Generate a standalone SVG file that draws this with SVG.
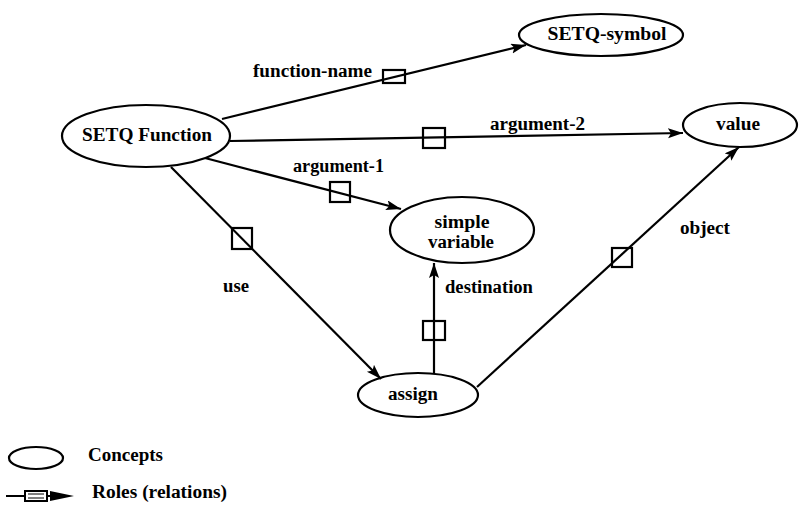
<svg xmlns="http://www.w3.org/2000/svg" width="800" height="505" viewBox="0 0 800 505">
<style>
.node ellipse{fill:none;stroke:#000;stroke-width:2.2}
.lbl{font-family:"Liberation Serif","Times New Roman",serif;font-weight:bold;font-size:18px;fill:#000}
.c{text-anchor:middle}
.edge line{stroke:#000;stroke-width:2.2}
.role{fill:none;stroke:#000;stroke-width:2.2}
</style>
<defs>
<marker id="ah" markerUnits="userSpaceOnUse" markerWidth="16" markerHeight="12" refX="15" refY="5" orient="auto">
<path d="M0,0 L15,5 L0,10 L3,5 z" fill="#000"/>
</marker>
</defs>
<rect width="800" height="505" fill="#fff"/>
<g id="connectors" class="edge">
<line x1="222" y1="119" x2="526" y2="45" marker-end="url(#ah)"/>
<rect class="role" x="383" y="70" width="22" height="13"/>
<text class="lbl" x="253" y="77" textLength="119" lengthAdjust="spacingAndGlyphs">function-name</text>
<line x1="230" y1="141" x2="683" y2="133" marker-end="url(#ah)"/>
<rect class="role" x="423" y="128" width="22" height="20"/>
<text class="lbl" x="490" y="130" textLength="95" lengthAdjust="spacingAndGlyphs">argument-2</text>
<line x1="205" y1="158" x2="401" y2="209" marker-end="url(#ah)"/>
<rect class="role" x="330" y="182" width="20" height="20"/>
<text class="lbl" x="293" y="172" textLength="91" lengthAdjust="spacingAndGlyphs">argument-1</text>
<line x1="171" y1="167" x2="381" y2="379" marker-end="url(#ah)"/>
<rect class="role" x="232" y="228" width="20" height="21"/>
<text class="lbl" x="223" y="292" textLength="26" lengthAdjust="spacingAndGlyphs">use</text>
<line x1="434" y1="373" x2="434" y2="263" marker-end="url(#ah)"/>
<rect class="role" x="423" y="321" width="22" height="19"/>
<text class="lbl" x="445" y="293" textLength="88" lengthAdjust="spacingAndGlyphs">destination</text>
<line x1="477" y1="387" x2="739" y2="147" marker-end="url(#ah)"/>
<rect class="role" x="612" y="248" width="20" height="19"/>
<text class="lbl" x="680" y="234" textLength="50" lengthAdjust="spacingAndGlyphs">object</text>
</g>
<g id="setq-function" class="node">
<ellipse cx="146" cy="136" rx="84" ry="31"/>
<text class="lbl c" x="147" y="141" textLength="130" lengthAdjust="spacingAndGlyphs">SETQ Function</text>
</g>
<g id="setq-symbol" class="node">
<ellipse cx="601" cy="35" rx="82" ry="21"/>
<text class="lbl c" x="607" y="40" textLength="119" lengthAdjust="spacingAndGlyphs">SETQ-symbol</text>
</g>
<g id="value" class="node">
<ellipse cx="740" cy="125" rx="57" ry="22"/>
<text class="lbl c" x="738" y="130" textLength="44" lengthAdjust="spacingAndGlyphs">value</text>
</g>
<g id="simple-variable" class="node">
<ellipse cx="462" cy="230" rx="72" ry="33"/>
<text class="lbl c" x="462" y="228" textLength="55" lengthAdjust="spacingAndGlyphs">simple</text>
<text class="lbl c" x="461" y="248" textLength="66" lengthAdjust="spacingAndGlyphs">variable</text>
</g>
<g id="assign" class="node">
<ellipse cx="418" cy="395" rx="60" ry="22"/>
<text class="lbl c" x="413" y="400" textLength="50" lengthAdjust="spacingAndGlyphs">assign</text>
</g>
<g id="legend">
<g id="legend-concepts" class="node">
<ellipse cx="36" cy="458" rx="27" ry="11"/>
<text class="lbl" x="88" y="461" textLength="75" lengthAdjust="spacingAndGlyphs">Concepts</text>
</g>
<g id="legend-roles">
<line x1="6" y1="496" x2="56" y2="496" stroke="#000" stroke-width="2"/>
<path d="M50,491 L74,496 L50,501 z" fill="#000"/>
<rect x="25" y="491" width="22" height="10" fill="#fff" stroke="#000" stroke-width="2"/>
<line x1="28" y1="494" x2="44" y2="494" stroke="#000" stroke-width="1"/>
<line x1="28" y1="498" x2="44" y2="498" stroke="#000" stroke-width="1"/>
<text class="lbl" x="92" y="498" textLength="135" lengthAdjust="spacingAndGlyphs">Roles (relations)</text>
</g>
</g>
</svg>
